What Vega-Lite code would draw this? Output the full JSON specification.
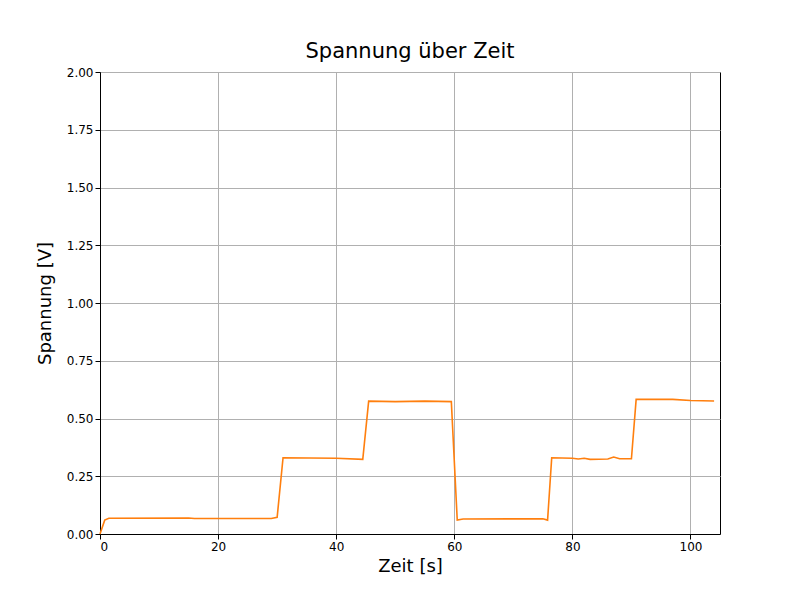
{"$schema":"https://vega.github.io/schema/vega-lite/v6.json","width":620,"height":462,"autosize":{"type":"none"},"padding":{"left":100,"top":72,"right":80,"bottom":66},"background":"white","title":{"text":"Spannung über Zeit","fontSize":21,"font":"DejaVu Sans","fontWeight":"normal","offset":4},"config":{"view":{"stroke":"black","strokeWidth":1},"axis":{"labelFont":"DejaVu Sans","titleFont":"DejaVu Sans","labelFontSize":12,"titleFontSize":18,"titleFontWeight":"normal","gridColor":"#b0b0b0","gridWidth":1,"gridOpacity":1,"tickColor":"black","domainColor":"black","labelColor":"black","titleColor":"black"}},"data":{"values":[{"t":0,"v":0},{"t":0.8,"v":0.06},{"t":1.5,"v":0.068},{"t":15,"v":0.069},{"t":16,"v":0.067},{"t":29,"v":0.067},{"t":30,"v":0.072},{"t":31,"v":0.33},{"t":40,"v":0.328},{"t":44.5,"v":0.323},{"t":45.5,"v":0.575},{"t":50,"v":0.573},{"t":55,"v":0.575},{"t":59.5,"v":0.573},{"t":60.5,"v":0.06},{"t":61.5,"v":0.065},{"t":75,"v":0.066},{"t":75.8,"v":0.06},{"t":76.5,"v":0.33},{"t":80,"v":0.328},{"t":81,"v":0.325},{"t":82,"v":0.328},{"t":83,"v":0.323},{"t":86,"v":0.325},{"t":87,"v":0.333},{"t":88,"v":0.326},{"t":90,"v":0.326},{"t":90.8,"v":0.583},{"t":97,"v":0.583},{"t":100,"v":0.578},{"t":104,"v":0.576}]},"mark":{"type":"line","color":"#ff7f0e","strokeWidth":1.6},"encoding":{"x":{"field":"t","type":"quantitative","title":"Zeit [s]","scale":{"domain":[0,105],"nice":false},"axis":{"values":[0,20,40,60,80,100],"titlePadding":5}},"y":{"field":"v","type":"quantitative","title":"Spannung [V]","scale":{"domain":[0,2],"nice":false},"axis":{"values":[0,0.25,0.5,0.75,1,1.25,1.5,1.75,2],"format":".2f","titlePadding":12}}}}
